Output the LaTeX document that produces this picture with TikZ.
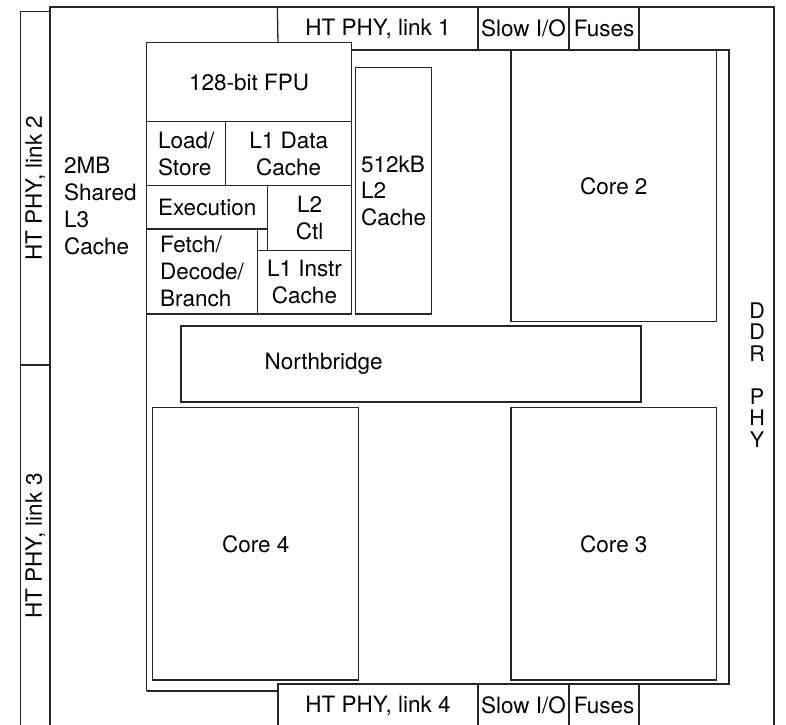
\documentclass[tikz,border=0pt]{standalone}
\usepackage{fontspec}
\setmainfont{TeX Gyre Heros}
\usepackage{tikz}
\usetikzlibrary{positioning}

\begin{document}
\begin{tikzpicture}[x=1pt, y=-1pt,
    blk/.style={draw=black!85, line width=1.3pt, inner sep=1.5pt, font=\fontsize{22.5}{26.8}\selectfont, align=center},
    blkl/.style={blk, align=left},
    edge/.style={draw=black!85, line width=1.3pt},
    lbl/.style={inner sep=0pt, font=\fontsize{22.5}{26.8}\selectfont, align=left}
]
\useasboundingbox (0,0) rectangle (786,724);

% Chip outline and core area
\draw[edge] (50,730) -- (50,7) -- (774,7) -- (774,730);
\draw[edge] (146.7,691) -- (146.7,42.7) -- (351.7,42.7) -- (351.7,50) -- (729,50) -- (729,684) -- (639,684);
\draw[edge] (146.7,691) -- (278,691);

% HT PHY links on the left
\node[blk, minimum width=29.3, minimum height=353.3] (link2) at (35.35,188.35) {\rotatebox{90}{HT PHY, link 2}};
\node[blk, minimum width=29.3, minimum height=362] (link3) at (35.35,546) {\rotatebox{90}{HT PHY, link 3}};

% Top row
\node[blk, draw=none, minimum width=200, minimum height=43] (link1) at (378,28.5) {HT PHY, link 1};
\draw[edge] (278,42.7) -- (link1.north west);
\node[blk, minimum width=91, minimum height=43] (sio1) at (523.5,28.5) {Slow I/O};
\node[blk, minimum width=70, minimum height=43] (fuse1) at (604,28.5) {Fuses};

% Bottom row
\node[blk, minimum width=200, minimum height=43] (link4) at (378,705.5) {HT PHY, link 4};
\node[blk, minimum width=91, minimum height=43] (sio4) at (523.5,705.5) {Slow I/O};
\node[blk, minimum width=70, minimum height=43] (fuse4) at (604,705.5) {Fuses};

% L3 cache
\node[lbl, anchor=west] (l3) at (64,206) {2MB\\Shared\\L3\\Cache};

% Core 1 details
\node[blk, minimum width=205, minimum height=79] (fpu) at (249.2,82.2) {128-bit FPU};
\node[blkl, minimum width=79, minimum height=64] (ls) at (186.2,153.7) {Load/\\Store};
\node[blk, minimum width=126, minimum height=64] (l1d) at (288.7,153.7) {L1 Data\\Cache};
\node[blk, minimum width=121, minimum height=43.3] (exe) at (207.2,207.35) {Execution};
\node[blk, minimum width=84, minimum height=64.6] (l2c) at (309.7,218) {L2\\Ctl};
\node[blkl, minimum width=110.6, minimum height=85] (fdb) at (202,271.5) {Fetch/\\Decode/\\Branch};
\node[blk, minimum width=94.4, minimum height=63.7] (l1i) at (304.5,282.15) {L1 Instr\\Cache};
\node[blkl, minimum width=76, minimum height=246.3] (l2) at (393.7,190.85) {512kB\\L2\\Cache};

% Other cores
\node[blk, minimum width=205.7, minimum height=271.7] (core2) at (613.85,185.85) {Core 2};
\node[blk, minimum width=206, minimum height=272.3] (core4) at (255.7,543.85) {Core 4};
\node[blk, minimum width=205.7, minimum height=272.3] (core3) at (613.85,543.85) {Core 3};

% Northbridge
\node[blk, minimum width=460, minimum height=76] (nb) at (411,364) {};
\node[lbl, right=84pt of nb.west] (nbtxt) {Northbridge};

% DDR PHY
\node[lbl, align=center, font=\fontsize{21.5}{21.5}\selectfont] (ddr) at (757,375) {D\\D\\R\\[21.5pt]P\\H\\Y};

\end{tikzpicture}
\end{document}
